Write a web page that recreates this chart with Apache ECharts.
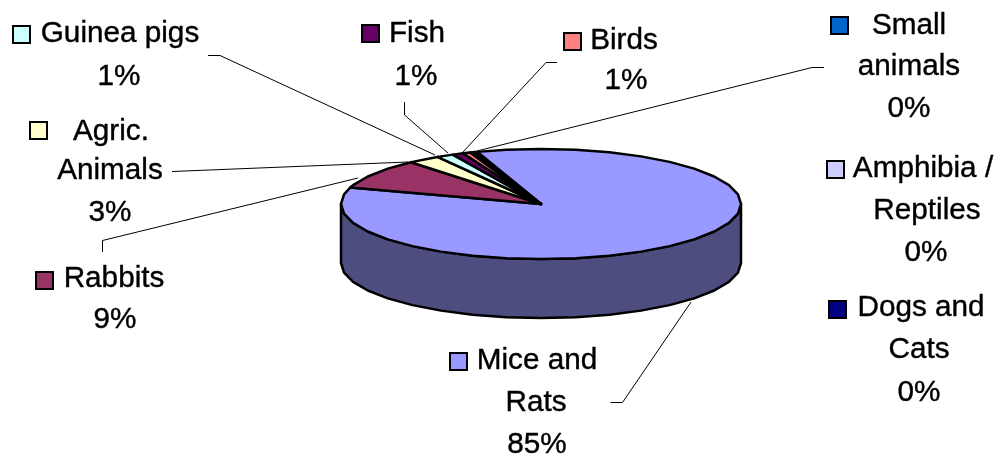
<!DOCTYPE html>
<html><head><meta charset="utf-8">
<style>html,body{margin:0;padding:0;background:#fff}#c{width:1002px;height:457px}</style>
<script src="https://cdn.jsdelivr.net/npm/echarts@6/dist/echarts.min.js"></script>
</head><body><div id="c"></div>
<script>
const categories = ['Mice and\nRats','Rabbits','Agric.\nAnimals','Guinea pigs','Fish','Birds','Small\nanimals','Amphibia /\nReptiles','Dogs and\nCats'];
const values = [85.0,8.9,2.6,1.4,0.9,0.6,0.2,0.2,0.2];
const colors = ['#9999FF','#993366','#FFFFCC','#CCFFFF','#660066','#FF8080','#0066CC','#CCCCFF','#000080'];
const sideColors = ['#4D4D80','#4D1A33','#808066','#668080','#330033','#804040','#003366','#666680','#000040'];

// Layout of the tilted pie
const pie = {cx:541, cy:204, rx:200, ry:55, depth:59, startDeg:-18.6, stepDeg:10};
// Label layout: key box (x,y), then [centre x, middle y] per text line
const labelLayout = [
  {key:[450,353], lines:[[537,361],[536,403],[537,445]]},
  {key:[36,272],  lines:[[114,279],[115,320]]},
  {key:[30,122],  lines:[[111,132],[110,171],[110,213]]},
  {key:[13,26],   lines:[[120,34],[119,77]]},
  {key:[362,25],  lines:[[417,34],[416,77]]},
  {key:[564,33],  lines:[[624,41],[626,81]]},
  {key:[831,17],  lines:[[909,26],[909,67],[909,109]]},
  {key:[827,161], lines:[[923,169],[927,211],[926,253]]},
  {key:[829,301], lines:[[921,308],[919,350],[919,393]]}
];
const leaders = [
  [[610.5,402.5],[622.5,402.5],[691,302]],
  [[102.5,252],[102.5,240.5],[358,178]],
  [[172,171.5],[408,162]],
  [[208,55.5],[220,55.5],[435,155]],
  [[404.5,102],[404.5,115],[448,153]],
  [[557,62.5],[546,62.5],[462,153]],
  [[824,67.5],[812,67.5],[477,151]],
  null, null
];

const total = values.reduce((a,b)=>a+b,0);
let acc = pie.startDeg;
const spans = values.map(v=>{const s=acc; acc+=v/total*360; return [s,acc];});
const pt = (deg,dy)=>{const t=deg*Math.PI/180; return [pie.cx+pie.rx*Math.sin(t), pie.cy-pie.ry*Math.cos(t)+(dy||0)];};
function arc(a,b,dy){
  const out=[pt(a,dy)];
  let d=Math.ceil(a/pie.stepDeg)*pie.stepDeg;
  for(;d<b;d+=pie.stepDeg){ if(d>a) out.push(pt(d,dy)); }
  out.push(pt(b,dy));
  return out;
}
const seriesData = values.map(v=>[v]);
const outline = {stroke:'#000', lineWidth:2.5, lineJoin:'round'};

const option = {
  animation:false,
  backgroundColor:'#fff',
  series:[
    {type:'custom', coordinateSystem:'none', silent:true, data:seriesData, z:1,
     renderItem(p){
       const [s,e]=spans[p.dataIndex];
       const a=Math.max(s,90), b=Math.min(e,270);
       if(b<=a) return {type:'group',children:[]};
       const top=arc(a,b,0), bot=arc(a,b,pie.depth).reverse();
       return {type:'polygon',shape:{points:top.concat(bot)},style:Object.assign({fill:sideColors[p.dataIndex]},outline)};
     }},
    {type:'custom', coordinateSystem:'none', silent:true, data:seriesData, z:2,
     renderItem(p){
       const [s,e]=spans[p.dataIndex];
       return {type:'polygon',shape:{points:[[pie.cx,pie.cy]].concat(arc(s,e,0))},
               style:Object.assign({fill:colors[p.dataIndex]},outline)};
     }},
    {type:'custom', coordinateSystem:'none', silent:true, data:seriesData, z:3,
     renderItem(p,api){
       const i=p.dataIndex, lay=labelLayout[i], kids=[];
       if(leaders[i]) kids.push({type:'polyline',shape:{points:leaders[i]},style:{stroke:'#000',lineWidth:1,fill:null}});
       kids.push({type:'rect',shape:{x:lay.key[0],y:lay.key[1],width:17,height:17},
                  style:{fill:colors[i],stroke:'#000',lineWidth:2}});
       const texts=categories[i].split('\n').concat(Math.round(api.value(0)/total*100)+'%');
       texts.forEach((t,k)=>kids.push({type:'text',style:{text:t,x:lay.lines[k][0],y:lay.lines[k][1],
         align:'center',verticalAlign:'middle',fill:'#000',stroke:'#000',lineWidth:0.4,
         font:'29.7px "Liberation Sans", Arial, sans-serif'}}));
       return {type:'group',children:kids};
     }}
  ]
};
echarts.init(document.getElementById('c'),null,{renderer:'canvas'}).setOption(option);
</script></body></html>
